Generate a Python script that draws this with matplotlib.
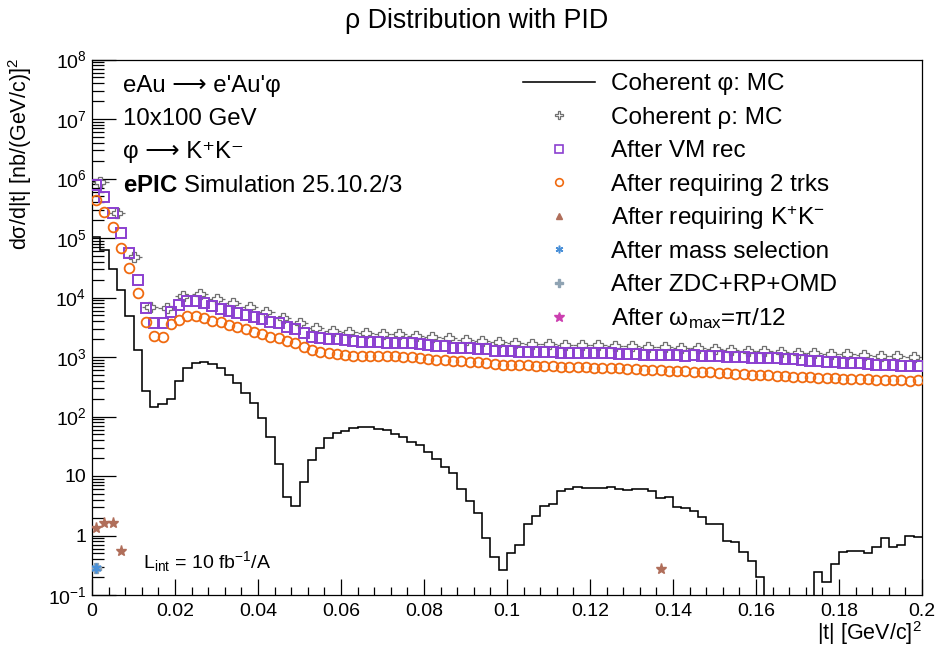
import numpy as np
import matplotlib
matplotlib.use("Agg")
import matplotlib.pyplot as plt

from matplotlib import rcParams
from matplotlib.legend import Legend
from matplotlib.lines import Line2D
from matplotlib.ticker import FixedLocator, FixedFormatter, LogLocator, MultipleLocator, NullFormatter

FONT_NAME = "Liberation Sans"

rcParams["font.family"] = [FONT_NAME, "DejaVu Sans"]
rcParams["mathtext.fontset"] = "custom"
rcParams["mathtext.rm"] = FONT_NAME
rcParams["mathtext.it"] = FONT_NAME + ":italic"
rcParams["mathtext.bf"] = FONT_NAME + ":bold"
rcParams["mathtext.sf"] = FONT_NAME
rcParams["mathtext.fallback"] = "stixsans"

T_MIN, T_MAX = 0.0, 0.2
N_FINE = 100    # 0.002 wide bins
N_COARSE = 50   # 0.004 wide bins

# coherent phi MC, histogram (0 = empty bin)
phi_mc = [
    1.05e5, 6.3e4, 3.02e4, 1.34e4, 4.9e3, 1.32e3, 269, 147, 163, 195,
    397, 664, 787, 818, 766, 649, 500, 372, 252, 167,
    93.8, 44.9, 16.0, 4.41, 3.15, 8.07, 18.7, 30.1, 43.3, 52.5,
    58.0, 65.2, 67.7, 66.2, 62.0, 59.6, 51.6, 46.0, 37.9, 33.7,
    25.8, 19.2, 14.4, 11.4, 6.01, 3.87, 2.43, 0.925, 0.443, 0.268,
    0.505, 0.705, 1.59, 2.14, 3.19, 3.37, 5.69, 6.01, 6.65, 6.32,
    6.32, 6.25, 6.49, 5.94, 5.74, 6.08, 6.01, 5.69, 4.25, 4.51,
    3.07, 2.88, 2.63, 2.03, 1.55, 1.55, 0.823, 0.774, 0.538, 0.38,
    0.204, 0, 0, 0, 0, 0, 0, 0.239, 0.168, 0.334,
    0.518, 0.546, 0.546, 0.505, 0.637, 0.913, 0.652, 0.705, 0.987, 0.949,
]

# coherent rho MC (coarse bins)
rho_mc = [
    8.85e5, 2.61e5, 4.86e4, 6.87e3, 6.61e3, 1.08e4, 1.15e4, 9.46e3, 8.02e3, 6.87e3,
    5.66e3, 4.59e3, 3.78e3, 3.05e3, 2.74e3, 2.61e3, 2.51e3, 2.44e3, 2.42e3, 2.26e3,
    2.15e3, 2.07e3, 1.94e3, 1.89e3, 1.77e3, 1.71e3, 1.66e3, 1.64e3, 1.62e3, 1.6e3,
    1.6e3, 1.55e3, 1.54e3, 1.5e3, 1.47e3, 1.44e3, 1.41e3, 1.35e3, 1.32e3, 1.28e3,
    1.25e3, 1.2e3, 1.19e3, 1.16e3, 1.13e3, 1.12e3, 1.08e3, 1.04e3, 1.02e3, 992,
]

# after VM reconstruction
vm_rec = [
    7.79e5, 4.95e5, 2.61e5, 1.2e5, 5.55e4, 1.97e4, 6.61e3, 3.74e3, 3.78e3, 5.66e3,
    7.36e3, 8.66e3, 8.66e3, 8.02e3, 7.22e3, 6.35e3, 5.95e3, 5.57e3, 5.1e3, 4.78e3,
    4.32e3, 3.84e3, 3.7e3, 3.24e3, 2.93e3, 2.57e3, 2.2e3, 2.07e3, 2.01e3, 1.99e3,
    1.94e3, 1.86e3, 1.82e3, 1.82e3, 1.82e3, 1.75e3, 1.75e3, 1.75e3, 1.71e3, 1.64e3,
    1.6e3, 1.55e3, 1.54e3, 1.44e3, 1.44e3, 1.41e3, 1.37e3, 1.37e3, 1.27e3, 1.27e3,
    1.24e3, 1.22e3, 1.23e3, 1.21e3, 1.2e3, 1.2e3, 1.18e3, 1.18e3, 1.17e3, 1.17e3,
    1.16e3, 1.15e3, 1.15e3, 1.14e3, 1.13e3, 1.11e3, 1.09e3, 1.09e3, 1.08e3, 1.07e3,
    1.06e3, 1.05e3, 1.06e3, 1.04e3, 1.03e3, 1.02e3, 1.01e3, 990, 985, 975,
    970, 960, 950, 940, 925, 880, 860, 850, 835, 815,
    805, 800, 790, 770, 735, 725, 720, 715, 705, 700,
]

# after requiring 2 tracks
two_trks = [
    4.36e5, 2.77e5, 1.52e5, 6.89e4, 3.18e4, 1.18e4, 3.94e3, 2.26e3, 2.18e3, 3.6e3,
    4.2e3, 4.9e3, 4.9e3, 4.59e3, 4.09e3, 3.84e3, 3.46e3, 3.17e3, 2.93e3, 2.67e3,
    2.42e3, 2.2e3, 2.07e3, 1.86e3, 1.71e3, 1.5e3, 1.32e3, 1.23e3, 1.16e3, 1.13e3,
    1.08e3, 1.04e3, 1.04e3, 1.04e3, 1.03e3, 1.03e3, 1.02e3, 1.01e3, 992, 955,
    929, 894, 894, 860, 860, 837, 837, 805, 766, 740,
    735, 728, 720, 715, 705, 700, 690, 685, 680, 672,
    665, 660, 655, 650, 640, 632, 610, 600, 595, 588,
    582, 575, 570, 562, 555, 548, 540, 520, 512, 505,
    500, 495, 488, 480, 470, 460, 455, 450, 445, 440,
    435, 430, 428, 420, 412, 410, 408, 405, 402, 418,
]

# sparse selections
kk_t = [0.001, 0.003, 0.005, 0.007, 0.137]
kk_val = [1.36, 1.65, 1.65, 0.559, 0.272]
mass_t = [0.001]
mass_val = [0.283]
zdc_t = [0.001]
zdc_val = [0.283]

labels = [
    "Coherent φ: MC",
    "Coherent ρ: MC",
    "After VM rec",
    "After requiring 2 trks",
    "After requiring K$^{+}$K$^{-}$",
    "After mass selection",
    "After ZDC+RP+OMD",
    "After ω$_{\\mathrm{max}}$=π/12",
]

x_ticks = [0, 0.02, 0.04, 0.06, 0.08, 0.1, 0.12, 0.14, 0.16, 0.18, 0.2]
x_tick_labels = ["0", "0.02", "0.04", "0.06", "0.08", "0.1", "0.12", "0.14", "0.16", "0.18", "0.2"]
y_ticks = [1e-1, 1, 10, 1e2, 1e3, 1e4, 1e5, 1e6, 1e7, 1e8]
y_tick_labels = [r"$10^{-1}$", "1", "10", r"$10^{2}$", r"$10^{3}$", r"$10^{4}$",
                 r"$10^{5}$", r"$10^{6}$", r"$10^{7}$", r"$10^{8}$"]

colors = {
    "rho": "#6f6f6f",
    "vm": "#8b3fd0",
    "trk": "#f06a10",
    "kk": "#b06e5a",
    "mass": "#4a90d8",
    "zdc": "#8fa3b3",
    "omega": "#cc3fb0",
}

LEGEND_FS = 17.5
INFO_FS = 17.3


def main():
    fig = plt.figure(figsize=(9.41, 6.49), dpi=100)
    W, H = 941.0, 649.0
    ax = fig.add_axes([92 / W, 1 - 595 / H, (922 - 92) / W, (595 - 59.5) / H])

    fine_edges = np.linspace(T_MIN, T_MAX, N_FINE + 1)
    fine_t = 0.5 * (fine_edges[:-1] + fine_edges[1:])
    coarse_edges = np.linspace(T_MIN, T_MAX, N_COARSE + 1)
    coarse_t = 0.5 * (coarse_edges[:-1] + coarse_edges[1:])
    half_w = 0.5 * (coarse_edges[1] - coarse_edges[0])

    # empty bins go below the frame, as ROOT does on a log axis
    phi = np.array(phi_mc, dtype=float)
    phi = np.where(phi > 0, phi, 1e-3)
    ax.stairs(phi, fine_edges, color="black", linewidth=1.15, baseline=None, zorder=2)

    ax.errorbar(coarse_t, rho_mc, xerr=half_w, fmt="P", ms=7.5, mfc="white",
                mec=colors["rho"], mew=0.9, ecolor=colors["rho"], elinewidth=0.9,
                capsize=0, zorder=3)
    ax.plot(fine_t, vm_rec, ls="none", marker="s", ms=7, mfc="none",
            mec=colors["vm"], mew=1.4, zorder=4)
    ax.plot(fine_t, two_trks, ls="none", marker="o", ms=7, mfc="none",
            mec=colors["trk"], mew=1.3, zorder=4)
    ax.plot(kk_t, kk_val, ls="none", marker="*", ms=8, color=colors["kk"], zorder=5)
    ax.plot(zdc_t, zdc_val, ls="none", marker="P", ms=7, color=colors["zdc"], zorder=5)
    ax.plot(mass_t, mass_val, ls="none", marker=(6, 2, 0), ms=7, mew=1.3,
            color=colors["mass"], zorder=6)

    ax.set_xlim(T_MIN, T_MAX)
    ax.set_yscale("log")
    ax.set_ylim(0.1, 1e8)

    ax.xaxis.set_major_locator(FixedLocator(x_ticks))
    ax.xaxis.set_major_formatter(FixedFormatter(x_tick_labels))
    ax.xaxis.set_minor_locator(MultipleLocator(0.004))
    ax.yaxis.set_major_locator(FixedLocator(y_ticks))
    ax.yaxis.set_major_formatter(FixedFormatter(y_tick_labels))
    ax.yaxis.set_minor_locator(LogLocator(base=10, subs=np.arange(2, 10), numticks=30))
    ax.yaxis.set_minor_formatter(NullFormatter())

    ax.tick_params(axis="both", which="both", direction="in", top=False, right=False,
                   width=0.9, labelsize=14)
    ax.tick_params(axis="y", which="major", length=17, pad=4)
    ax.tick_params(axis="y", which="minor", length=8.5)
    ax.tick_params(axis="x", which="major", length=11.5, pad=6)
    ax.tick_params(axis="x", which="minor", length=5.8)
    for sp in ax.spines.values():
        sp.set_linewidth(0.9)

    handles = [
        Line2D([], [], color="black", lw=1.15),
        Line2D([], [], ls="none", marker="P", ms=6, mfc="white", mec=colors["rho"], mew=0.9),
        Line2D([], [], ls="none", marker="s", ms=5.5, mfc="none", mec=colors["vm"], mew=1.2),
        Line2D([], [], ls="none", marker="o", ms=5.5, mfc="none", mec=colors["trk"], mew=1.2),
        Line2D([], [], ls="none", marker="^", ms=5, color=colors["kk"]),
        Line2D([], [], ls="none", marker=(6, 2, 0), ms=5.5, mew=1.1, color=colors["mass"]),
        Line2D([], [], ls="none", marker="P", ms=5.5, color=colors["zdc"]),
        Line2D([], [], ls="none", marker="*", ms=7, color=colors["omega"]),
    ]
    # one legend per row keeps the row pitch fixed like the ROOT TLegend
    fs_px = LEGEND_FS * 100 / 72
    for i, (h, lab) in enumerate(zip(handles, labels)):
        row_y = 84 + 33.5 * i
        leg = Legend(ax, [h], [lab], loc="center left",
                     bbox_to_anchor=(523 / W, 1 - row_y / H),
                     bbox_transform=fig.transFigure, frameon=False, fontsize=LEGEND_FS,
                     handlelength=72 / fs_px, handletextpad=16 / fs_px,
                     borderpad=0, borderaxespad=0)
        ax.add_artist(leg)

    fig.text(123 / W, 1 - 86 / H, "eAu ⟶ e'Au'φ", fontsize=INFO_FS, va="center")
    fig.text(123 / W, 1 - 119 / H, "10x100 GeV", fontsize=INFO_FS, va="center")
    fig.text(123 / W, 1 - 152 / H, "φ ⟶ K⁺K⁻", fontsize=INFO_FS, va="center")
    fig.text(123 / W, 1 - 186 / H, r"$\mathbf{ePIC}$ Simulation 25.10.2/3", fontsize=INFO_FS, va="center")
    fig.text(143 / W, 1 - 562 / H, r"L$_{\mathrm{int}}$ = 10 fb$^{-1}$/A", fontsize=14, va="center")

    fig.text(477 / W, 1 - 21 / H, "ρ Distribution with PID", fontsize=19.3,
             ha="center", va="center")
    fig.text(20 / W, 1 - 58 / H, "dσ/d|t| [nb/(GeV/c)]$^{2}$", fontsize=15.5,
             rotation=90, ha="center", va="top")
    fig.text(922 / W, 1 - 633 / H, "|t| [GeV/c]$^{2}$", fontsize=15.5,
             ha="right", va="center")

    fig.savefig("out.png", dpi=100)
    plt.close(fig)


if __name__ == "__main__":
    main()
